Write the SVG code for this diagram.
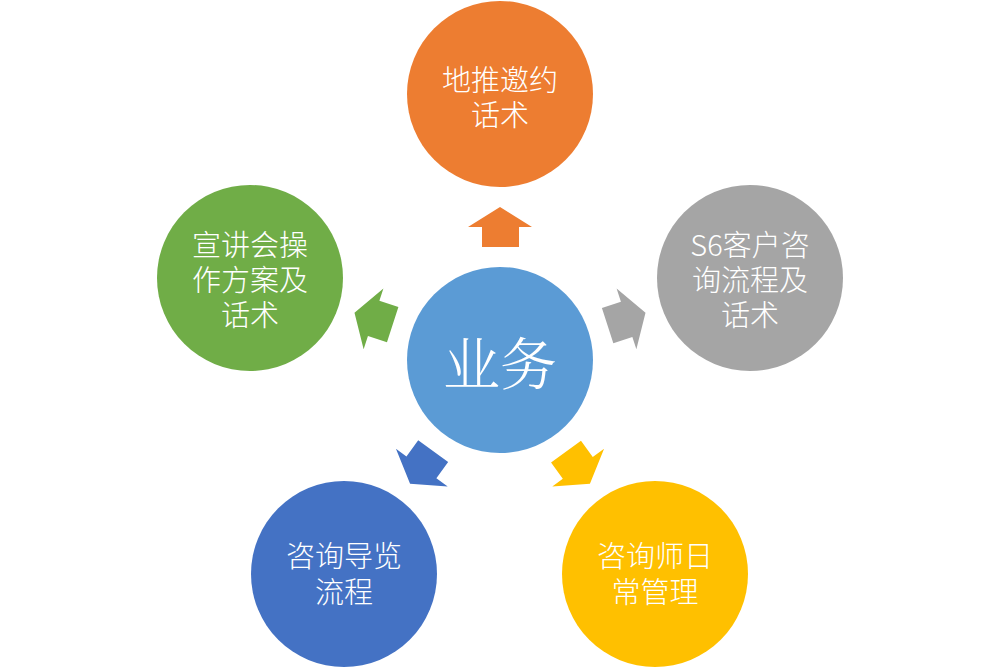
<svg xmlns="http://www.w3.org/2000/svg" width="1001" height="669" viewBox="0 0 1001 669">
<style>
.lbl{font-family:'Noto Sans CJK SC','Noto Sans',sans-serif;font-size:29px;fill:#ffffff;text-anchor:middle;dominant-baseline:central;font-weight:300}
.ctr{font-family:'Noto Serif CJK SC','Noto Sans CJK SC',serif;font-size:57px;fill:#ffffff;text-anchor:middle;dominant-baseline:central;font-weight:300}
</style>
<defs>
<path id="arr" d="M500,207 L532,227 L519,227 L519,247 L482,247 L482,227 L468,227 Z"/>
</defs>
<rect width="1001" height="669" fill="#ffffff"/>
<g id="connectors">
<use href="#arr" fill="#ED7D31"/>
<use href="#arr" fill="#A5A5A5" transform="rotate(72 500 360)"/>
<use href="#arr" fill="#FFC000" transform="rotate(144 500 360)"/>
<use href="#arr" fill="#4472C4" transform="rotate(216 500 360)"/>
<use href="#arr" fill="#70AD47" transform="rotate(288 500 360)"/>
</g>
<g id="center">
<circle cx="500" cy="360" r="93" fill="#5B9BD5"/>
<text class="ctr" x="500" y="360">业务</text>
</g>
<g id="top">
<circle cx="500" cy="94" r="93" fill="#ED7D31"/>
<text class="lbl"><tspan x="500" y="78">地推邀约</tspan><tspan x="500" y="113">话术</tspan></text>
</g>
<g id="right">
<circle cx="750" cy="278" r="93" fill="#A5A5A5"/>
<text class="lbl"><tspan x="750" y="243">S6客户咨</tspan><tspan x="750" y="278">询流程及</tspan><tspan x="750" y="313">话术</tspan></text>
</g>
<g id="bottom-right">
<circle cx="655" cy="574" r="93" fill="#FFC000"/>
<text class="lbl"><tspan x="655" y="554">咨询师日</tspan><tspan x="655" y="590">常管理</tspan></text>
</g>
<g id="bottom-left">
<circle cx="344" cy="574" r="93" fill="#4472C4"/>
<text class="lbl"><tspan x="344" y="554">咨询导览</tspan><tspan x="344" y="590">流程</tspan></text>
</g>
<g id="left">
<circle cx="250" cy="278" r="93" fill="#70AD47"/>
<text class="lbl"><tspan x="250" y="243">宣讲会操</tspan><tspan x="250" y="278">作方案及</tspan><tspan x="250" y="313">话术</tspan></text>
</g>
</svg>
